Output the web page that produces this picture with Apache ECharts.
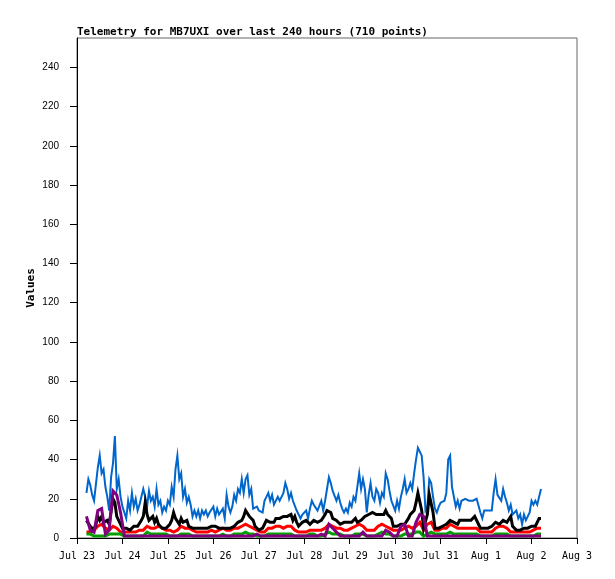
<!DOCTYPE html>
<html>
<head>
<meta charset="utf-8">
<script src="https://cdn.jsdelivr.net/npm/echarts@6/dist/echarts.min.js"></script>
<style>
html,body{margin:0;padding:0;background:#fff;}
#chart{width:615px;height:579px;}
</style>
</head>
<body>
<div id="chart"></div>
<script>
// Sampling grids: hours since Jul 23 00:00
var startHour = 5;
var fineStep = 1;    // blue & black read hourly
var coarseStep = 2;  // red, green, purple read every 2 hours

var dayLabels = ['Jul 23','Jul 24','Jul 25','Jul 26','Jul 27','Jul 28','Jul 29','Jul 30','Jul 31','Aug 1','Aug 2','Aug 3'];
var yTicks = [0,20,40,60,80,100,120,140,160,180,200,220,240];

var blueValues = [
  23,30,27,22,19,20,36,42,33,35,
  26,21,14,31,38,52,25,30,21,16,
  13,10,19,14,23,16,20,14,17,21,
  25,21,16,24,19,21,16,25,17,19,
  13,16,14,19,17,26,21,35,42,30,
  33,21,25,18,21,17,11,14,11,14,
  10,14,12,14,11,13,12,16,11,15,
  12,11,15,10,22,16,13,16,22,19,
  25,23,30,23,30,32,22,25,15,14,
  16,14,14,13,19,21,23,19,22,17,
  18,21,19,21,23,28,25,20,23,19,
  20,14,14,10,12,11,14,10,15,19,
  17,18,14,14,19,14,19,25,31,28,
  24,25,19,22,18,15,13,15,13,18,
  16,21,19,26,33,25,30,25,13,22,
  28,21,19,25,23,18,23,21,33,30,
  24,19,19,14,19,15,21,25,30,23,
  25,28,25,33,40,46,45,42,31,14,
  16,30,28,21,15,13,16,18,19,19,
  23,40,42,26,25,16,19,15,19,19,
  20,19,19,18,19,19,20,19,13,10,
  14,13,14,14,14,23,30,22,21,19,
  25,21,18,14,17,12,11,14,10,12,
  7,12,9,11,13,19,17,19,17,21,
  25
];
var blackValues = [
  9,8,6,5,4,7,11,9,11,8,
  9,9,7,8,20,18,11,9,7,5,
  4,5,4,4,5,6,7,6,6,9,
  11,18,12,9,10,11,8,10,7,6,
  5,4,5,6,7,9,13,10,11,7,
  10,8,7,9,6,6,5,5,5,5,
  5,4,5,5,5,5,6,7,6,6,
  5,6,5,6,5,6,5,6,6,7,
  8,8,9,11,14,15,11,10,9,6,
  5,4,5,5,7,9,9,8,9,8,
  10,9,10,11,11,12,11,10,12,9,
  11,8,6,6,8,8,9,8,7,8,
  9,9,8,7,9,10,12,14,15,13,
  10,10,9,8,7,7,8,7,8,9,
  8,9,10,8,8,9,10,11,10,12,
  12,13,14,12,11,12,13,12,14,12,
  12,10,6,5,6,6,7,6,7,8,
  10,12,12,14,18,23,24,14,5,5,
  12,22,21,13,5,5,5,6,6,6,
  7,8,9,10,8,7,7,9,8,9,
  10,9,10,9,10,11,9,7,5,5,
  5,4,5,6,6,7,8,8,7,8,
  9,8,8,9,11,6,5,4,5,4,
  5,5,4,5,5,6,6,6,8,10,
  10
];
var redValues = [
  3,3,4,6,7,5,4,6,5,3,3,3,3,3,4,4,6,5,5,6,5,4,4,3,4,6,5,5,4,3,
  3,3,3,4,3,4,5,4,4,5,5,6,7,6,5,4,3,3,5,5,6,6,5,6,6,4,3,3,3,4,
  4,4,4,5,7,6,5,5,4,4,5,6,7,6,4,4,4,6,7,6,5,4,4,4,5,6,5,6,8,4,7,
  8,4,4,5,5,7,6,5,5,5,5,5,5,3,3,3,3,5,6,6,5,3,3,3,3,3,3,4,5,5
];
var greenValues = [
  2,2,1,1,1,1,2,2,2,2,1,1,1,1,1,1,3,2,2,2,2,2,1,1,1,2,2,2,1,1,
  1,1,1,1,1,1,2,1,1,2,2,2,3,2,2,1,1,1,2,2,2,2,2,2,2,1,1,1,1,2,
  2,1,1,2,3,2,2,2,1,1,1,2,2,2,1,1,1,2,3,2,2,1,1,1,2,2,2,3,3,1,2,
  3,2,2,2,2,3,2,2,2,2,2,2,2,1,1,1,1,2,2,2,2,1,1,1,1,1,1,1,2,2
];
var purpleValues = [
  11,4,3,14,15,2,4,24,22,13,1,1,1,1,1,1,1,1,1,1,1,1,1,1,1,1,1,1,1,1,
  1,1,1,1,1,1,1,1,1,1,1,1,1,1,1,2,1,1,1,1,1,1,1,1,1,1,1,1,1,1,
  1,1,2,1,7,5,3,1,1,1,1,1,1,3,1,1,1,1,1,4,3,1,1,6,7,1,1,8,12,11,1,
  1,1,1,1,1,1,1,1,1,1,1,1,1,1,1,1,1,1,1,1,1,1,1,1,1,1,1,1,1,1
];

function toPairs(vals, step){
  return vals.map(function(v,i){ return [startHour + i*step, v]; });
}

var chart = echarts.init(document.getElementById('chart'), null, {renderer:'canvas'});
var mono = 'DejaVu Sans Mono';

function lineSeries(name, vals, step, color, width){
  return {
    name: name, type: 'line', data: toPairs(vals, step), symbol: 'none',
    lineStyle: {color: color, width: width, join: 'miter'}, itemStyle:{color:color},
    animation: false, silent: true
  };
}

chart.setOption({
  backgroundColor: '#fff',
  animation: false,
  title: {
    text: 'Telemetry for MB7UXI over last 240 hours (710 points)',
    left: 72, top: 22,
    textStyle: {fontFamily: mono, fontWeight: 'bold', fontSize: 11, color: '#000'}
  },
  grid: {left: 77, right: 38, top: 38, bottom: 41, show: true, borderColor: '#666', borderWidth: 1, backgroundColor: 'transparent'},
  xAxis: {
    type: 'value', min: 0, max: 264, interval: 24,
    axisLine: {show: true, lineStyle: {color: '#000', width: 1}},
    axisTick: {show: true, length: 6, lineStyle: {color: '#000'}},
    splitLine: {show: false},
    axisLabel: {
      margin: 13, fontFamily: mono, fontSize: 10, color: '#000',
      formatter: function(v){ return dayLabels[Math.round(v/24)] || ''; }
    }
  },
  yAxis: {
    type: 'value', min: 0, max: 255, interval: 20,
    name: 'Values', nameLocation: 'middle', nameGap: 40, nameRotate: 90,
    nameMoveOverlap: false,
    nameTextStyle: {fontFamily: mono, fontWeight: 'bold', fontSize: 11, color: '#000'},
    axisLine: {show: true, lineStyle: {color: '#000', width: 1}},
    axisTick: {show: true, length: 7, lineStyle: {color: '#000'}, customValues: yTicks},
    splitLine: {show: false},
    axisLabel: {margin: 18, fontFamily: 'Liberation Sans', fontSize: 10, color: '#000', customValues: yTicks}
  },
  series: [
    lineSeries('blue', blueValues, fineStep, '#0066cc', 2),
    lineSeries('red', redValues, coarseStep, '#ff0000', 3),
    lineSeries('green', greenValues, coarseStep, '#00a000', 3),
    lineSeries('black', blackValues, fineStep, '#000000', 3),
    lineSeries('purple', purpleValues, coarseStep, '#800080', 3)
  ]
});
</script>
</body>
</html>
